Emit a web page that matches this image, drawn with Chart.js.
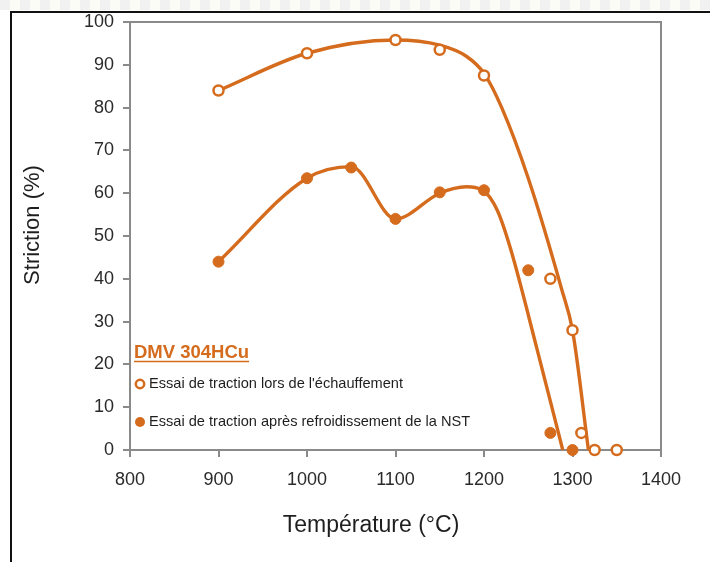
<!DOCTYPE html>
<html>
<head>
<meta charset="utf-8">
<script src="https://cdn.jsdelivr.net/npm/chart.js@4"></script>
<style>
  html, body { margin: 0; padding: 0; background: #fff; }
  #strip { position: absolute; left: 0; top: 0; width: 710px; height: 10px;
           background: repeating-linear-gradient(90deg, #f1f1f1 0 10px, #fcfcf6 10px 20px); }
  #frame { position: absolute; left: 10px; top: 11px; width: 700px; height: 551px;
           border-top: 2px solid #111; border-left: 2px solid #111; box-sizing: border-box; }
  #wrap { position: absolute; left: 0; top: 0; width: 710px; height: 562px; }
</style>
</head>
<body>
<div id="strip"></div>
<div id="frame"></div>
<div id="wrap"><canvas id="chart"></canvas></div>
<script>
// Valeurs
const heatTemp = [900, 1000, 1100, 1150, 1200, 1275, 1300, 1310, 1325, 1350];
const heatStriction = [84, 92.7, 95.8, 93.5, 87.5, 40, 28, 4, 0, 0];
const coolTemp = [900, 1000, 1050, 1100, 1150, 1200, 1250, 1275, 1300];
const coolStriction = [44, 63.5, 66, 54, 60.2, 60.7, 42, 4, 0];

// Tracé des courbes lissées (relevé le long des courbes)
const heatCurveTemp = [900, 1000, 1100, 1150, 1180, 1200, 1220, 1250, 1288, 1300, 1318];
const heatCurveStriction = [84, 92.7, 95.8, 94.6, 92, 88, 80, 63.5, 37.4, 28, 0];
const coolCurveTemp = [900, 1000, 1050, 1100, 1150, 1180, 1200, 1215, 1230, 1260, 1289];
const coolCurveStriction = [44, 63.5, 66.2, 54, 60, 61.5, 60.5, 56, 47, 23.5, 0];

const xTicks = [800, 900, 1000, 1100, 1200, 1300, 1400];
const yTicks = [0, 10, 20, 30, 40, 50, 60, 70, 80, 90, 100];

const ORANGE = '#d56b1d';
const AXIS = '#8a8a8a';
const FONT = "'Liberation Sans', Arial, sans-serif";

const toPoints = (xs, ys) => xs.map((x, i) => ({ x: x, y: ys[i] }));

// Titres d'axes et légende dessinés à la main
const overlay = {
    id: 'overlay',
    afterDraw(chart) {
        const ctx = chart.ctx;
        const a = chart.chartArea;
        ctx.save();
        // cadre du graphique (haut et droite)
        ctx.strokeStyle = AXIS;
        ctx.lineWidth = 2;
        ctx.beginPath();
        ctx.moveTo(a.left, a.top);
        ctx.lineTo(a.right, a.top);
        ctx.lineTo(a.right, a.bottom);
        ctx.stroke();

        // titres
        ctx.fillStyle = '#1e1e1e';
        ctx.textAlign = 'center';
        ctx.textBaseline = 'middle';
        ctx.font = '23px ' + FONT;
        ctx.fillText('Température (°C)', 371, 526);
        ctx.font = '22px ' + FONT;
        ctx.translate(33, 225);
        ctx.rotate(-Math.PI / 2);
        ctx.fillText('Striction (%)', 0, 0);
        ctx.setTransform(1, 0, 0, 1, 0, 0);

        // légende
        ctx.textAlign = 'left';
        ctx.textBaseline = 'alphabetic';
        ctx.font = 'bold 18.5px ' + FONT;
        ctx.fillStyle = ORANGE;
        const title = 'DMV 304HCu';
        ctx.fillText(title, 134, 358);
        const w = ctx.measureText(title).width;
        ctx.strokeStyle = ORANGE;
        ctx.lineWidth = 1.5;
        ctx.beginPath();
        ctx.moveTo(134, 361.5);
        ctx.lineTo(134 + w, 361.5);
        ctx.stroke();

        ctx.lineWidth = 2.5;
        ctx.beginPath();
        ctx.arc(140, 384, 4.2, 0, Math.PI * 2);
        ctx.fillStyle = '#fff';
        ctx.fill();
        ctx.stroke();
        ctx.beginPath();
        ctx.arc(140, 422, 5, 0, Math.PI * 2);
        ctx.fillStyle = ORANGE;
        ctx.fill();

        ctx.fillStyle = '#1e1e1e';
        ctx.font = '14.6px ' + FONT;
        ctx.textBaseline = 'middle';
        ctx.fillText("Essai de traction lors de l'échauffement", 149, 384);
        ctx.fillText('Essai de traction après refroidissement de la NST', 149, 422);
        ctx.restore();
    }
};

new Chart(document.getElementById('chart'), {
    type: 'scatter',
    data: {
        datasets: [
            {
                label: "Essai de traction lors de l'échauffement",
                data: toPoints(heatTemp, heatStriction),
                showLine: false,
                pointRadius: 5,
                pointBorderWidth: 2.5,
                pointBackgroundColor: '#fff',
                pointBorderColor: ORANGE,
                clip: false,
                order: 1
            },
            {
                label: 'Essai de traction après refroidissement de la NST',
                data: toPoints(coolTemp, coolStriction),
                showLine: false,
                pointRadius: 5.5,
                pointBorderWidth: 1,
                pointBackgroundColor: ORANGE,
                pointBorderColor: ORANGE,
                clip: false,
                order: 1
            },
            {
                label: 'courbe échauffement',
                data: toPoints(heatCurveTemp, heatCurveStriction),
                showLine: true,
                pointRadius: 0,
                borderColor: ORANGE,
                borderWidth: 3.4,
                cubicInterpolationMode: 'monotone',
                order: 2
            },
            {
                label: 'courbe refroidissement',
                data: toPoints(coolCurveTemp, coolCurveStriction),
                showLine: true,
                pointRadius: 0,
                borderColor: ORANGE,
                borderWidth: 3.4,
                cubicInterpolationMode: 'monotone',
                order: 2
            }
        ]
    },
    options: {
        responsive: true,
        maintainAspectRatio: false,
        animation: false,
        layout: { padding: { top: 22, right: 49, left: 0, bottom: 0 } },
        plugins: {
            legend: { display: false },
            tooltip: { enabled: false }
        },
        scales: {
            x: {
                type: 'linear',
                min: 800,
                max: 1400,
                afterBuildTicks: (scale) => { scale.ticks = xTicks.map(v => ({ value: v })); },
                afterFit: (scale) => { scale.height = 112; },
                ticks: { font: { size: 18, family: FONT }, color: '#2a2a2a', padding: 12,
                         callback: (v) => String(v) },
                grid: { drawOnChartArea: false, drawTicks: true, tickLength: 7, color: AXIS, lineWidth: 2 },
                border: { color: AXIS, width: 2 }
            },
            y: {
                min: 0,
                max: 100,
                afterBuildTicks: (scale) => { scale.ticks = yTicks.map(v => ({ value: v })); },
                afterFit: (scale) => { scale.width = 130; },
                ticks: { font: { size: 18, family: FONT }, color: '#2a2a2a', padding: 9,
                         callback: (v) => String(v) },
                grid: { drawOnChartArea: false, drawTicks: true, tickLength: 7, color: AXIS, lineWidth: 2 },
                border: { color: AXIS, width: 2 }
            }
        }
    },
    plugins: [overlay]
});
</script>
</body>
</html>
